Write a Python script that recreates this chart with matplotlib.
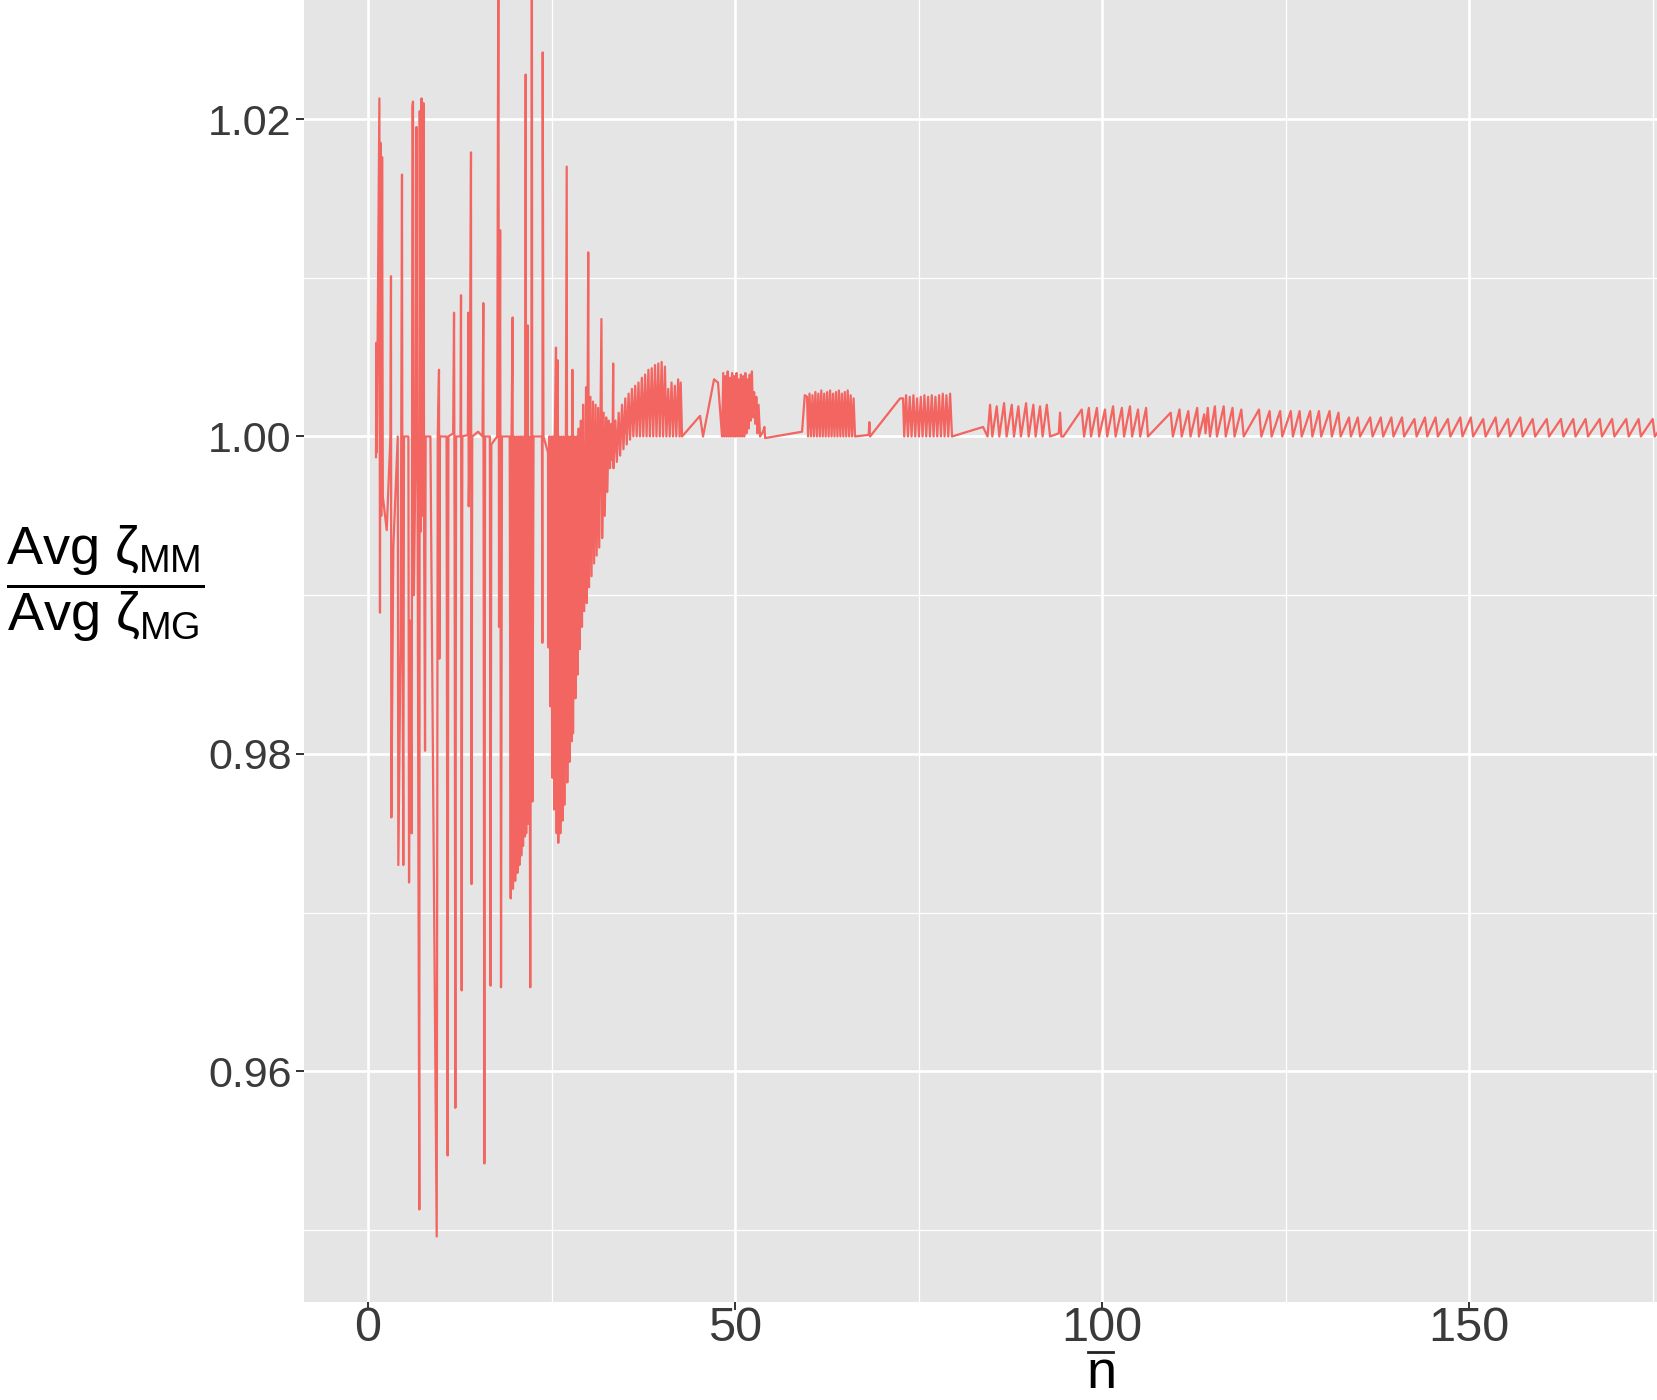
import matplotlib
matplotlib.use("Agg")
import matplotlib.pyplot as plt
from matplotlib.ticker import FixedLocator
from matplotlib.lines import Line2D

plt.rcParams['mathtext.fontset'] = 'custom'
plt.rcParams['mathtext.rm'] = 'Liberation Sans'
plt.rcParams['mathtext.it'] = 'Liberation Sans'
plt.rcParams['mathtext.bf'] = 'Liberation Sans:bold'

# ---- data: (n-bar, ratio) ----
early_pts = [
    (1.09, 0.9987), (1.12, 1.0059), (1.20, 0.9990), (1.55, 1.0213), (1.63, 0.9889),
    (1.72, 1.0185), (1.80, 0.9950), (1.92, 1.0176), (2.02, 0.9962), (2.55, 0.9941),
    (3.05, 1.0000), (3.13, 1.0101), (3.18, 0.9760), (3.45, 0.9930), (4.05, 1.0000),
    (4.13, 0.9730), (4.45, 0.9880), (4.63, 1.0165), (4.70, 0.9880), (4.81, 0.9730),
    (4.90, 1.0000), (5.50, 1.0000), (5.59, 0.9719), (5.72, 0.9884), (5.95, 0.9750),
    (6.05, 1.0208), (6.13, 1.0211), (6.25, 0.9900), (6.50, 1.0000), (6.60, 1.0195),
    (6.75, 0.9960), (6.99, 0.9513), (7.05, 1.0205), (7.15, 0.9940), (7.30, 1.0213),
    (7.45, 0.9950), (7.55, 1.0210), (7.65, 0.9930), (7.77, 0.9802), (7.85, 1.0000),
    (8.50, 1.0000), (9.36, 0.9496), (9.50, 1.0000), (9.67, 1.0042), (9.72, 0.9860),
    (9.80, 1.0000), (10.70, 1.0000), (10.85, 0.9547), (10.95, 1.0000), (11.60, 1.0002),
    (11.72, 1.0078), (11.80, 0.9930), (11.90, 0.9577), (12.00, 1.0000), (12.60, 1.0000),
    (12.67, 1.0089), (12.76, 0.9651), (12.85, 1.0000), (13.60, 1.0001), (13.67, 1.0078),
    (13.72, 0.9956), (13.85, 1.0000), (14.03, 1.0179), (14.10, 0.9718), (14.20, 1.0000),
    (15.00, 1.0003), (15.60, 1.0000), (15.71, 1.0084), (15.85, 0.9542), (15.95, 1.0000),
    (16.60, 1.0000), (16.70, 0.9654), (16.80, 0.9995), (17.60, 1.0000), (17.76, 1.0320),
    (17.85, 0.9880), (18.00, 1.0130), (18.12, 0.9653), (18.25, 1.0000), (19.30, 1.0000),
    (19.44, 0.9709), (19.55, 1.0000), (19.70, 1.0075), (19.75, 0.9715), (19.90, 1.0000),
    (20.05, 0.9720), (20.20, 1.0000), (20.35, 0.9725), (20.50, 1.0000), (20.62, 0.9730),
    (20.75, 1.0000), (20.88, 0.9736), (21.00, 1.0000), (21.12, 0.9742), (21.25, 1.0000),
    (21.38, 0.9748), (21.48, 1.0228), (21.55, 0.9750), (21.70, 1.0000), (21.76, 1.0070),
    (21.82, 0.9756), (21.95, 1.0000), (22.10, 0.9653), (22.25, 1.0000), (22.32, 1.0350),
    (22.40, 0.9770), (22.55, 1.0000), (23.70, 1.0000), (23.75, 0.9870), (23.80, 1.0242),
    (23.90, 1.0000), (24.52, 0.9990),
    (24.60, 0.9867), (24.70, 1.0000), (24.85, 0.9830), (24.95, 1.0000), (25.10, 0.9785),
    (25.20, 1.0000), (25.35, 0.9765), (25.45, 1.0000), (25.61, 1.0056), (25.70, 0.9750),
    (25.84, 1.0048), (25.92, 0.9744), (26.05, 1.0000), (26.20, 0.9750), (26.35, 1.0000),
    (26.50, 0.9758), (26.65, 1.0000), (26.80, 0.9768), (26.95, 1.0000), (27.07, 1.0170),
    (27.15, 0.9782), (27.30, 1.0000), (27.45, 0.9795), (27.60, 1.0000), (27.75, 0.9808),
    (27.84, 1.0042), (27.93, 0.9813), (28.10, 1.0000), (28.25, 0.9835), (28.40, 1.0000),
    (28.55, 0.9850), (28.70, 1.0005), (28.85, 0.9866), (29.00, 1.0010), (29.15, 0.9880),
    (29.30, 1.0020), (29.45, 0.9890), (29.70, 1.0031), (29.80, 0.9895), (30.00, 1.0116),
    (30.10, 0.9905), (30.30, 1.0025), (30.45, 0.9912), (30.65, 1.0022), (30.80, 0.9920),
    (31.00, 1.0020), (31.15, 0.9925), (31.35, 1.0018), (31.50, 0.9930), (31.80, 1.0074),
    (31.90, 0.9936), (32.10, 1.0015), (32.25, 0.9950), (32.45, 1.0012), (32.60, 0.9965),
    (32.80, 1.0010), (32.97, 0.9980), (33.15, 1.0008), (33.30, 0.9985), (33.40, 1.0046),
    (33.45, 0.9980), (33.70, 1.0010), (33.90, 0.9984), (34.15, 1.0015), (34.35, 0.9988),
    (34.60, 1.0020), (34.80, 0.9992), (35.05, 1.0024), (35.25, 0.9995), (35.50, 1.0027),
    (35.70, 0.9998), (35.95, 1.0030), (36.15, 1.0000), (36.40, 1.0032), (36.60, 1.0000),
    (36.85, 1.0034), (37.05, 1.0000), (37.30, 1.0037), (37.50, 1.0000), (37.75, 1.0039),
    (37.95, 1.0000), (38.20, 1.0042), (38.40, 1.0000), (38.65, 1.0043), (38.85, 1.0000),
    (39.10, 1.0045), (39.30, 1.0000), (39.55, 1.0046), (39.75, 1.0000), (40.00, 1.0047),
    (40.20, 1.0000), (40.45, 1.0044), (40.65, 1.0000), (40.90, 1.0030), (41.10, 1.0000),
    (41.35, 1.0034), (41.55, 1.0000), (41.80, 1.0032), (42.00, 1.0000), (42.25, 1.0036),
    (42.45, 1.0000), (42.60, 1.0034), (42.78, 1.0000),
]

mid_pts = [
    (45.23, 1.0013), (45.64, 1.0000), (47.14, 1.0036), (47.68, 1.0034),
    (48.23, 1.0000), (48.40, 1.0040), (48.55, 1.0000), (48.70, 1.0038), (48.85, 1.0000),
    (49.00, 1.0041), (49.15, 1.0000), (49.30, 1.0037), (49.45, 1.0000), (49.60, 1.0040),
    (49.75, 1.0000), (49.90, 1.0038), (50.05, 1.0000), (50.20, 1.0040), (50.35, 1.0000),
    (50.50, 1.0036), (50.65, 1.0000), (50.80, 1.0039), (50.95, 1.0000), (51.10, 1.0038),
    (51.25, 1.0000), (51.40, 1.0040), (51.55, 1.0002), (51.70, 1.0036), (51.85, 1.0005),
    (52.00, 1.0039), (52.15, 1.0010), (52.30, 1.0041), (52.45, 1.0012), (52.60, 1.0028),
    (52.75, 1.0008), (52.90, 1.0025), (53.05, 1.0002), (53.20, 1.0020), (53.41, 1.0000),
    (53.81, 1.0003), (54.00, 1.0006), (54.10, 0.9999), (59.13, 1.0003), (59.50, 1.0026),
    (59.81, 1.0025),
    (59.95, 1.0000), (60.15, 1.0027), (60.35, 1.0000), (60.55, 1.0026), (60.75, 1.0000),
    (60.95, 1.0028), (61.15, 1.0000), (61.35, 1.0027), (61.55, 1.0000), (61.75, 1.0029),
    (61.95, 1.0000), (62.15, 1.0027), (62.35, 1.0000), (62.55, 1.0028), (62.75, 1.0000),
    (62.95, 1.0029), (63.15, 1.0000), (63.35, 1.0027), (63.55, 1.0000), (63.75, 1.0028),
    (63.95, 1.0000), (64.15, 1.0029), (64.35, 1.0000), (64.55, 1.0027), (64.75, 1.0000),
    (64.95, 1.0028), (65.15, 1.0000), (65.35, 1.0029), (65.55, 1.0000), (65.75, 1.0026),
    (65.95, 1.0000), (66.15, 1.0024), (66.35, 1.0000), (68.20, 1.0001), (68.30, 1.0009),
    (68.40, 1.0000), (72.48, 1.0024), (72.89, 1.0024),
    (73.05, 1.0000), (73.30, 1.0026), (73.55, 1.0000), (73.80, 1.0025), (74.05, 1.0000),
    (74.30, 1.0026), (74.55, 1.0000), (74.80, 1.0024), (75.05, 1.0000), (75.30, 1.0025),
    (75.55, 1.0000), (75.80, 1.0026), (76.05, 1.0000), (76.30, 1.0025), (76.55, 1.0000),
    (76.80, 1.0026), (77.05, 1.0000), (77.30, 1.0025), (77.55, 1.0000), (77.80, 1.0026),
    (78.05, 1.0000), (78.30, 1.0027), (78.55, 1.0000), (78.80, 1.0026), (79.05, 1.0000),
    (79.30, 1.0027), (79.56, 1.0000), (83.79, 1.0006),
]

late_pts = [
    (84.40, 1.0000), (84.74, 1.0020), (85.05, 1.0000), (85.65, 1.0019), (86.00, 1.0000),
    (86.65, 1.0021), (87.00, 1.0000), (87.70, 1.0020), (88.00, 1.0000), (88.60, 1.0019),
    (88.95, 1.0000), (89.65, 1.0021), (90.00, 1.0000), (90.64, 1.0020), (90.95, 1.0000),
    (91.55, 1.0019), (91.90, 1.0000), (92.47, 1.0020), (92.92, 1.0000), (94.10, 1.0002),
    (94.28, 1.0015), (94.45, 1.0000), (94.73, 1.0000), (97.23, 1.0017), (97.55, 1.0000),
    (98.20, 1.0018), (98.50, 1.0000), (99.30, 1.0018), (99.60, 1.0000), (100.40, 1.0017),
    (100.70, 1.0000), (101.50, 1.0019), (101.85, 1.0000), (102.70, 1.0018), (103.00, 1.0000),
    (103.80, 1.0019), (104.10, 1.0000), (104.90, 1.0017), (105.20, 1.0000), (106.00, 1.0018),
    (106.25, 1.0000), (109.35, 1.0015), (109.65, 1.0000), (110.55, 1.0017), (110.85, 1.0000),
    (111.75, 1.0016), (112.05, 1.0000), (112.96, 1.0018), (113.20, 1.0000), (113.92, 1.0014),
    (114.10, 1.0002), (114.40, 1.0018), (114.70, 1.0000), (115.37, 1.0019), (115.65, 1.0000),
    (116.57, 1.0019), (116.85, 1.0000), (117.77, 1.0018), (118.05, 1.0000), (118.97, 1.0017),
    (119.30, 1.0000), (121.38, 1.0017), (121.70, 1.0000), (122.82, 1.0016), (123.10, 1.0000),
    (124.26, 1.0016), (124.55, 1.0000), (125.71, 1.0016), (126.00, 1.0000), (126.91, 1.0016),
    (127.20, 1.0000), (128.35, 1.0016), (128.65, 1.0000), (129.55, 1.0016), (129.85, 1.0000),
    (130.99, 1.0016), (131.30, 1.0000), (132.20, 1.0015), (132.50, 1.0000), (133.64, 1.0012),
    (133.90, 1.0000), (134.84, 1.0012), (135.15, 1.0000), (136.53, 1.0012), (136.85, 1.0000),
    (137.97, 1.0012), (138.30, 1.0000), (139.41, 1.0012), (139.70, 1.0000), (140.86, 1.0012),
    (141.15, 1.0000), (142.55, 1.0011), (142.85, 1.0000), (143.99, 1.0012), (144.30, 1.0000),
    (145.43, 1.0012), (145.75, 1.0000), (147.11, 1.0011), (147.45, 1.0000), (148.80, 1.0012),
    (149.10, 1.0000), (150.24, 1.0012), (150.55, 1.0000), (151.92, 1.0011), (152.25, 1.0000),
    (153.61, 1.0012), (153.95, 1.0000), (155.29, 1.0011), (155.60, 1.0000), (156.97, 1.0012),
    (157.30, 1.0000), (158.66, 1.0011), (159.00, 1.0000), (160.58, 1.0011), (160.90, 1.0000),
    (162.51, 1.0011), (162.85, 1.0000), (164.19, 1.0011), (164.50, 1.0000), (165.87, 1.0011),
    (166.20, 1.0000), (167.80, 1.0011), (168.10, 1.0000), (169.48, 1.0011), (169.80, 1.0000),
    (171.40, 1.0011), (171.75, 1.0000), (173.09, 1.0011), (173.40, 1.0000), (175.01, 1.0011),
    (175.30, 1.0000), (177.00, 1.0011),
]

x_major = [0, 50, 100, 150]
x_major_labels = ["0", "50", "100", "150"]
x_minor = [25, 75, 125, 175]
y_major = [0.96, 0.98, 1.00, 1.02]
y_major_labels = ["0.96", "0.98", "1.00", "1.02"]
y_minor = [0.95, 0.97, 0.99, 1.01]

all_pts = early_pts + mid_pts + late_pts
n_vals = [p[0] for p in all_pts]
ratio_vals = [p[1] for p in all_pts]

W, H = 1657, 1400
fig = plt.figure(figsize=(W / 100, H / 100), dpi=100)
fig.patch.set_facecolor("white")
ax = fig.add_axes([304 / W, 98 / H, (W - 304) / W, 1302 / H])
ax.set_facecolor("#E5E5E5")
ax.set_axisbelow(True)

ax.plot(n_vals, ratio_vals, color="#F26560", lw=1.6, solid_joinstyle="round")

ax.set_xlim(-8.72, 175.6)
ax.set_ylim(0.94547, 1.0275)

ax.xaxis.set_major_locator(FixedLocator(x_major))
ax.xaxis.set_minor_locator(FixedLocator(x_minor))
ax.yaxis.set_major_locator(FixedLocator(y_major))
ax.yaxis.set_minor_locator(FixedLocator(y_minor))
ax.set_xticklabels(x_major_labels)
ax.set_yticklabels(y_major_labels)

ax.grid(which="major", color="white", lw=1.9)
ax.grid(which="minor", color="white", lw=0.9)
for s in ax.spines.values():
    s.set_visible(False)

ax.tick_params(which="major", length=6, width=1.4, color="#333333")
ax.tick_params(axis="y", which="major", pad=3)
ax.tick_params(axis="x", which="major", pad=-3)
ax.tick_params(which="minor", length=0)
for lbl in ax.get_yticklabels():
    lbl.set_fontfamily(["Liberation Sans", "DejaVu Sans"])
    lbl.set_fontsize(31)
    lbl.set_color("#3a3a3a")
for lbl in ax.get_xticklabels():
    lbl.set_fontfamily(["Liberation Sans Narrow", "Liberation Sans", "DejaVu Sans"])
    lbl.set_fontsize(35)
    lbl.set_color("#3a3a3a")

# axis titles
fig.text(1100 / W, 12 / H, r"$\mathrm{n}$", fontsize=39,
         ha="center", va="baseline", color="black")
fig.add_artist(Line2D([1088 / W, 1113 / W], [(H - 1352) / H] * 2,
                      transform=fig.transFigure, color="#222222", lw=2.0))
fig.text(6 / W, (H - 584) / H,
         r"$\dfrac{\mathrm{Avg}\ \zeta_{\mathrm{MM}}}{\mathrm{Avg}\ \zeta_{\mathrm{MG}}}$",
         fontsize=39, ha="left", va="center", color="black")

fig.savefig("out.png", dpi=100)
